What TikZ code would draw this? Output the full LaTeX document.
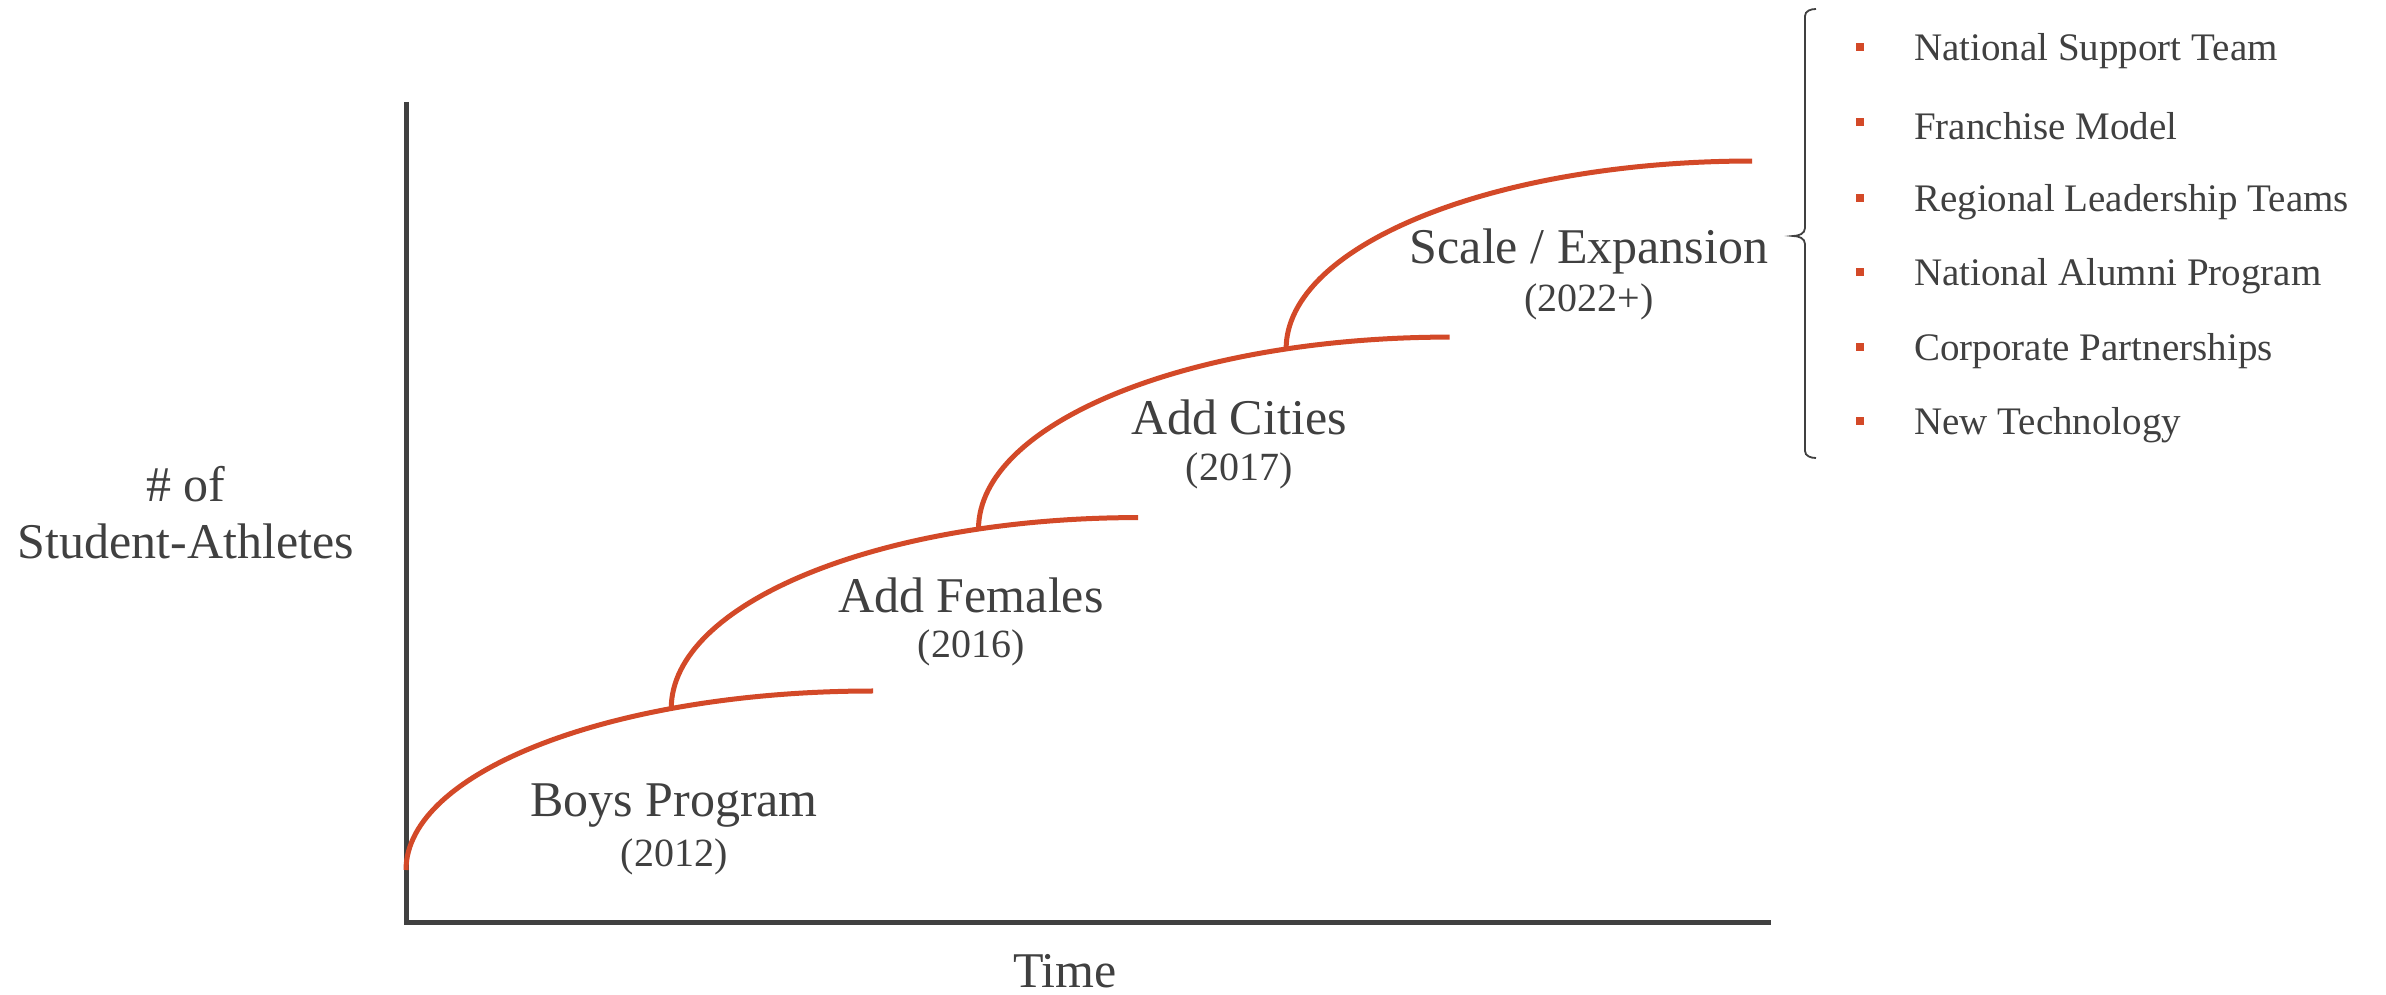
\documentclass[tikz,border=0pt]{standalone}
\usepackage{fontspec}
\setmainfont{Liberation Serif}
\usetikzlibrary{calc}
\definecolor{txt}{RGB}{64,64,64}
\definecolor{curvecol}{RGB}{211,73,40}
\tikzset{
  axisline/.style={draw=txt,line width=5pt},
  growth/.style={draw=curvecol,line width=5pt},
  stagelabel/.style={text=txt,font=\fontsize{50}{56}\selectfont,inner sep=0pt,anchor=center},
  yearlabel/.style={text=txt,font=\fontsize{40}{46}\selectfont,inner sep=0pt,anchor=center},
  axislabel/.style={text=txt,font=\fontsize{50}{57}\selectfont,inner sep=0pt,align=center},
  itemtext/.style={text=txt,font=\fontsize{39}{44}\selectfont,inner sep=0pt,anchor=west},
  bulletsq/.style={fill=curvecol,draw=none,minimum size=8pt,inner sep=0pt},
  bracestyle/.style={draw=txt,line width=1.8pt}
}
\begin{document}
\begin{tikzpicture}[x=1pt,y=1pt]
\useasboundingbox[fill=white] (0,0) rectangle (2386,994);
% axes
\coordinate (ytop) at (406,892);
\coordinate (origin) at (406,72);
\coordinate (xend) at (1771,72);
\draw[axisline] (ytop) -- (origin) -- (xend);
% growth curves (quarter ellipses)
\coordinate (S1) at (406,124);
\draw[growth] (S1) arc[start angle=180,end angle=90,x radius=467,y radius=179] coordinate (E1);
\coordinate (J1) at ($(S1)+(467,0)+(115.6:467 and 179)$);
\draw[growth] (J1) arc[start angle=180,end angle=90,x radius=467,y radius=191] coordinate (E2);
\coordinate (J2) at ($(J1)+(467,0)+(110.0:467 and 191)$);
\draw[growth] (J2) arc[start angle=180,end angle=90,x radius=471,y radius=192] coordinate (E3);
\coordinate (J3) at ($(J2)+(471,0)+(110.3:471 and 192)$);
\draw[growth] (J3) arc[start angle=180,end angle=90,x radius=466,y radius=188] coordinate (E4);
% stage labels
\node[stagelabel] (boys) at (674,188) {Boys Program};
\node[yearlabel] (boysy) at (674,137) {(2012)};
\node[stagelabel] (fem) at (971,399) {Add Females};
\node[yearlabel] (femy) at (971,346) {(2016)};
\node[stagelabel] (cities) at (1239,577) {Add Cities};
\node[yearlabel] (citiesy) at (1239,523) {(2017)};
\node[stagelabel] (scale) at (1589,743) {Scale / Expansion};
\node[yearlabel] (scaley) at (1589,692) {(2022+)};
% axis labels
\node[axislabel] (ylab) at (186,481) {\# of\\Student-Athletes};
\node[axislabel] (xlab) at (1065,23) {Time};
% brace
\draw[bracestyle] (1816,985) to[out=180,in=90] (1805,978) -- (1805,766)
  to[out=-90,in=0] (1793,758) to[out=0,in=90] (1805,750) -- (1805,543)
  to[out=-90,in=180] (1816,536);
% list
\foreach \y/\t/\n in {947/National Support Team/i1,872/Franchise Model/i2,796/Regional Leadership Teams/i3,722/National Alumni Program/i4,647/Corporate Partnerships/i5,573/New Technology/i6}{
  \node[bulletsq] (b\n) at (1860,\y) {};
  \node[itemtext] (t\n) at (1914,\y-4) {\t};
}
\end{tikzpicture}
\end{document}
